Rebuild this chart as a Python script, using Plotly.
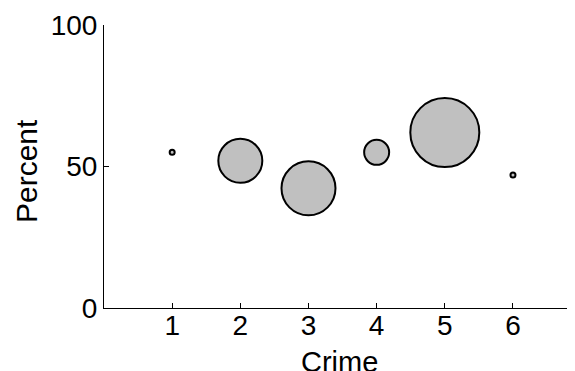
import plotly.graph_objects as go

crime = [1, 2, 3, 4, 5, 6]
percent = [55, 52, 42.3, 55, 62, 47]
bubble = [5, 44, 54, 25, 69, 5]

x_ticks = [1, 2, 3, 4, 5, 6]
y_ticks = [0, 50, 100]
x_title = "Crime"
y_title = "Percent"

fig = go.Figure(go.Scatter(
    x=crime, y=percent, mode="markers",
    marker=dict(size=bubble, sizemode="diameter", color="#c0c0c0", opacity=1,
                line=dict(color="black", width=2)),
    hoverinfo="x+y", showlegend=False,
))

fam = "Liberation Sans, Arial, sans-serif"
tick_font = dict(family=fam, size=28, color="black")
xt_font = dict(family=fam, size=29, color="black")
yt_font = dict(family=fam, size=30, color="black")

# page body has an 8px margin, so the figure is sized to fit the window
fig.update_layout(
    width=567, height=363,
    margin=dict(l=96, r=0, t=17, b=63, autoexpand=False),
    paper_bgcolor="white", plot_bgcolor="white",
    font=tick_font,
    xaxis=dict(range=[0, 6.91], tickvals=x_ticks, ticks="inside", ticklen=5,
               tickcolor="black", showline=True, linecolor="black", linewidth=1,
               showgrid=False, zeroline=False, mirror=False, automargin=False,
               ticklabelstandoff=-8, tickfont=tick_font),
    yaxis=dict(range=[0, 100], tickvals=y_ticks, ticks="inside", ticklen=5,
               tickcolor="black", showline=True, linecolor="black", linewidth=1,
               showgrid=False, zeroline=False, mirror=False, automargin=False,
               tickfont=tick_font),
    annotations=[
        dict(text=x_title, xref="paper", yref="paper", x=0.501, y=-0.1898,
             xanchor="center", yanchor="middle", showarrow=False, font=xt_font),
        dict(text=y_title, xref="paper", yref="paper", x=-0.1656, y=0.484,
             xanchor="center", yanchor="middle", textangle=-90, showarrow=False,
             font=yt_font),
    ],
)

fig.write_html("out.html")
